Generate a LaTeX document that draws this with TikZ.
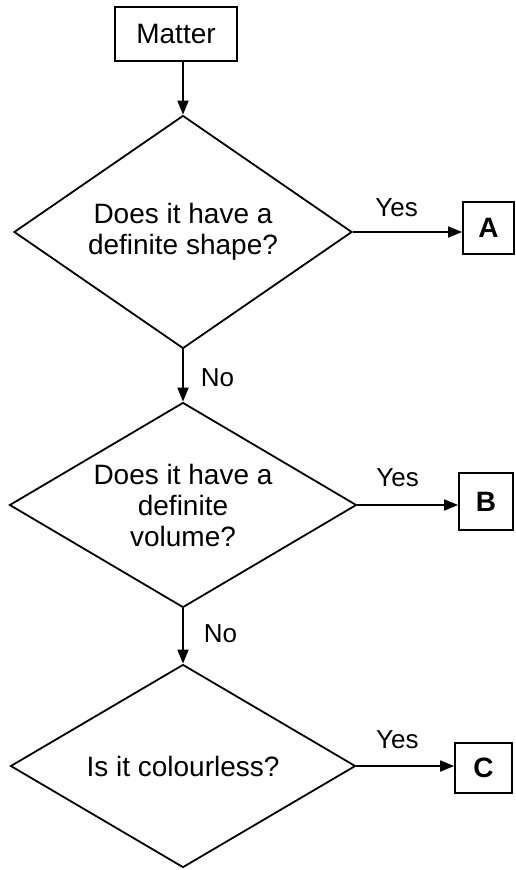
\documentclass[tikz,border=0pt]{standalone}
\usepackage{fontspec}
\setmainfont{Liberation Sans}
\usetikzlibrary{shapes.geometric,arrows.meta}
\begin{document}
\begin{tikzpicture}[x=1pt,y=-1pt,
  line width=1.8pt,
  every node/.style={font=\fontsize{28}{31}\selectfont},
  box/.style={draw,inner sep=0pt},
  letterbox/.style={box,font=\fontsize{28}{31}\selectfont\bfseries},
  decision/.style={draw,shape=diamond,inner sep=0pt,align=center},
  lbl/.style={font=\fontsize{26}{28}\selectfont,inner sep=0pt},
  flow/.style={-{Triangle[length=14pt,width=11pt]}}]
\useasboundingbox (0,0) rectangle (516,870);

% start box
\node[box,minimum width=122pt,minimum height=54pt] (matter) at (176,34) {Matter};

% decisions
\node[decision,shape aspect=1.46,minimum width=338pt,minimum height=233pt] (d1) at (183,232)
  {Does it have a\\definite shape?};
\node[decision,shape aspect=1.7,minimum width=347pt,minimum height=205pt] (d2) at (183,505)
  {Does it have a\\definite\\volume?};
\node[decision,shape aspect=1.7,minimum width=345pt,minimum height=203pt] (d3) at (183,766)
  {Is it colourless?};

% outcome boxes
\node[letterbox,minimum width=51pt,minimum height=52pt] (a) at (488.5,228) {A};
\node[letterbox,minimum width=54pt,minimum height=57pt] (b) at (486,501.5) {B};
\node[letterbox,minimum width=57pt,minimum height=50pt] (c) at (483.5,768) {C};

% vertical flow
\draw[flow] (d1.north |- matter.south) -- (d1.north);
\draw[flow] (d1.south) -- (d2.north)
  node[lbl,pos=0.55,anchor=west,xshift=17pt] (no1) {No};
\draw[flow] (d2.south) -- (d3.north)
  node[lbl,pos=0.45,anchor=west,xshift=20pt] (no2) {No};

% yes branches
\draw[flow] (d1.east) -- (d1.east -| a.west)
  node[lbl,pos=0.4,above=14pt] (y1) {Yes};
\draw[flow] (d2.east) -- (d2.east -| b.west)
  node[lbl,pos=0.4,above=17pt] (y2) {Yes};
\draw[flow] (d3.east) -- (d3.east -| c.west)
  node[lbl,pos=0.42,above=16pt] (y3) {Yes};
\end{tikzpicture}
\end{document}
